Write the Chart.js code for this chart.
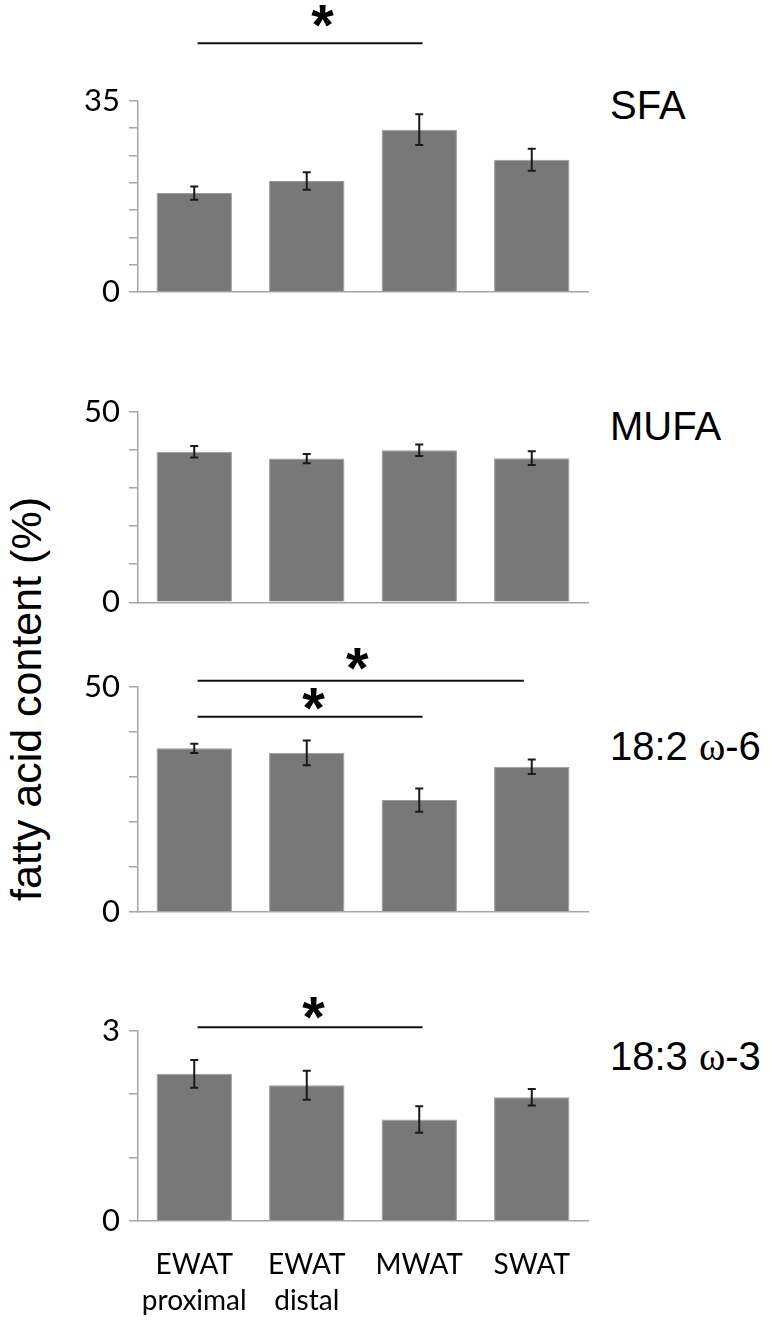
<!DOCTYPE html>
<html>
<head>
<meta charset="utf-8">
<script src="https://cdn.jsdelivr.net/npm/chart.js@4.4.1/dist/chart.umd.min.js"></script>
<style>
  body { margin: 0; background: #fff; width: 775px; height: 1324px; position: relative; overflow: hidden; }
  canvas { position: absolute; left: 0; }
  .name { position: absolute; left: 610px; font: 40px 'Liberation Sans', Arial, sans-serif; line-height: 1; white-space: nowrap; color: #000; }
  .name span { font-family: 'Liberation Serif', serif; }
  #ytitle { position: absolute; left: 26px; top: 699px; transform: translate(-50%, -50%) rotate(-90deg);
            font: 43px 'Liberation Sans', Arial, sans-serif; white-space: nowrap; color: #000; }
</style>
</head>
<body>
<div id="ytitle">fatty acid content (%)</div>
<div class="name" style="top:85px">SFA</div>
<div class="name" style="top:406px">MUFA</div>
<div class="name" style="top:726px">18:2 <span>ω</span>-6</div>
<div class="name" style="top:1036px">18:3 <span>ω</span>-3</div>

<canvas id="sfa" width="775" height="332" style="top:0px"></canvas>
<canvas id="mufa" width="775" height="313" style="top:330px"></canvas>
<canvas id="la" width="775" height="322" style="top:630px"></canvas>
<canvas id="ala" width="775" height="334" style="top:990px"></canvas>

<script>
// categories (x axis)
const categories = [['EWAT', 'proximal'], ['EWAT', 'distal'], 'MWAT', 'SWAT'];

// SFA
const sfaMean = [18.1, 20.3, 29.7, 24.2];
const sfaErr = [1.2, 1.6, 2.8, 2.0];
// MUFA
const mufaMean = [39.5, 37.7, 39.9, 37.8];
const mufaErr = [1.5, 1.2, 1.5, 1.8];
// 18:2 w-6
const laMean = [36.3, 35.3, 24.8, 32.2];
const laErr = [1.05, 2.75, 2.6, 1.6];
// 18:3 w-3
const alaMean = [2.32, 2.14, 1.60, 1.95];
const alaErr = [0.22, 0.23, 0.21, 0.13];

// y axis ranges
const sfaMax = 35, sfaStep = 5;
const mufaMax = 50, mufaStep = 10;
const laMax = 50, laStep = 10;
const alaMax = 3, alaStep = 1;

const axisGray = '#a6a6a6';

// error bars + significance brackets
const errorBars = {
  id: 'errorBars',
  afterDatasetsDraw(chart, args, opts) {
    const ctx = chart.ctx;
    const ys = chart.scales.y, xs = chart.scales.x;
    const ds = chart.data.datasets[0];
    const meta = chart.getDatasetMeta(0);
    ctx.save();
    ctx.strokeStyle = '#1a1a1a';
    ctx.lineWidth = 2;
    meta.data.forEach((bar, i) => {
      const v = ds.data[i], e = ds.errors[i];
      const top = ys.getPixelForValue(v + e), bot = ys.getPixelForValue(v - e);
      ctx.beginPath();
      ctx.moveTo(bar.x, top); ctx.lineTo(bar.x, bot);
      ctx.moveTo(bar.x - 4, top); ctx.lineTo(bar.x + 4, top);
      ctx.moveTo(bar.x - 4, bot); ctx.lineTo(bar.x + 4, bot);
      ctx.stroke();
    });
    // position along the category axis, fractional index allowed
    const xAt = f => {
      const p0 = xs.getPixelForValue(0), p1 = xs.getPixelForValue(1);
      return p0 + f * (p1 - p0);
    };
    (opts.brackets || []).forEach(b => {
      const y = ys.getPixelForValue(b.level);
      ctx.strokeStyle = '#111';
      ctx.lineWidth = 2;
      ctx.beginPath();
      ctx.moveTo(xAt(b.from), y); ctx.lineTo(xAt(b.to), y);
      ctx.stroke();
      ctx.fillStyle = '#000';
      ctx.font = 'bold 58px "Liberation Sans", Arial, sans-serif';
      ctx.textAlign = 'center';
      ctx.textBaseline = 'alphabetic';
      const m = ctx.measureText('*');
      const cy = ys.getPixelForValue(b.star);
      ctx.fillText('*', xAt(b.starAt), cy + (m.actualBoundingBoxAscent - m.actualBoundingBoxDescent) / 2);
    });
    ctx.restore();
  }
};

function makePanel(id, mean, err, max, step, pad, brackets, showLabels) {
  return new Chart(document.getElementById(id), {
    type: 'bar',
    data: {
      labels: categories,
      datasets: [{
        data: mean,
        errors: err,
        backgroundColor: '#787878',
        borderColor: '#9c9c9c',
        borderWidth: 1,
        barPercentage: 0.67,
        categoryPercentage: 1
      }]
    },
    options: {
      responsive: false,
      animation: false,
      events: [],
      layout: { padding: pad },
      plugins: {
        legend: { display: false },
        tooltip: { enabled: false },
        errorBars: { brackets: brackets }
      },
      scales: {
        x: {
          grid: { display: false, drawTicks: false },
          border: { color: axisGray, width: 1.5 },
          ticks: {
            display: showLabels,
            color: '#000',
            font: { family: 'Lato', size: 28, lineHeight: 1.29 },
            padding: 26,
            maxRotation: 0,
            autoSkip: false
          },
          afterFit: s => { s.height = showLabels ? 100 : 0; }
        },
        y: {
          min: 0,
          max: max,
          grid: { drawOnChartArea: false, drawTicks: true, tickLength: 9, color: axisGray, lineWidth: 1.5 },
          border: { color: axisGray, width: 1.5 },
          ticks: {
            stepSize: step,
            autoSkip: false,
            color: '#000',
            padding: 9,
            font: { family: 'Lato', size: 31 },
            callback: v => (v === 0 || v === max) ? v : ''
          },
          afterFit: s => { s.width = 138; }
        }
      }
    },
    plugins: [errorBars]
  });
}

makePanel('sfa', sfaMean, sfaErr, sfaMax, sfaStep,
  { top: 100.7, bottom: 40, left: 0, right: 187 },
  [{ from: 0.03, to: 2.03, level: 45.5, star: 50.5, starAt: 1.14 }], false);

makePanel('mufa', mufaMean, mufaErr, mufaMax, mufaStep,
  { top: 81.7, bottom: 40.7, left: 0, right: 187 }, [], false);

makePanel('la', laMean, laErr, laMax, laStep,
  { top: 56.7, bottom: 40.3, left: 0, right: 187 },
  [{ from: 0.03, to: 2.93, level: 51.33, star: 56.2, starAt: 1.45 },
   { from: 0.03, to: 2.03, level: 43.33, star: 47.3, starAt: 1.06 }], false);

makePanel('ala', alaMean, alaErr, alaMax, alaStep,
  { top: 40.7, bottom: 3, left: 0, right: 187 },
  [{ from: 0.03, to: 2.03, level: 3.054, star: 3.36, starAt: 1.06 }], true);
</script>
</body>
</html>
